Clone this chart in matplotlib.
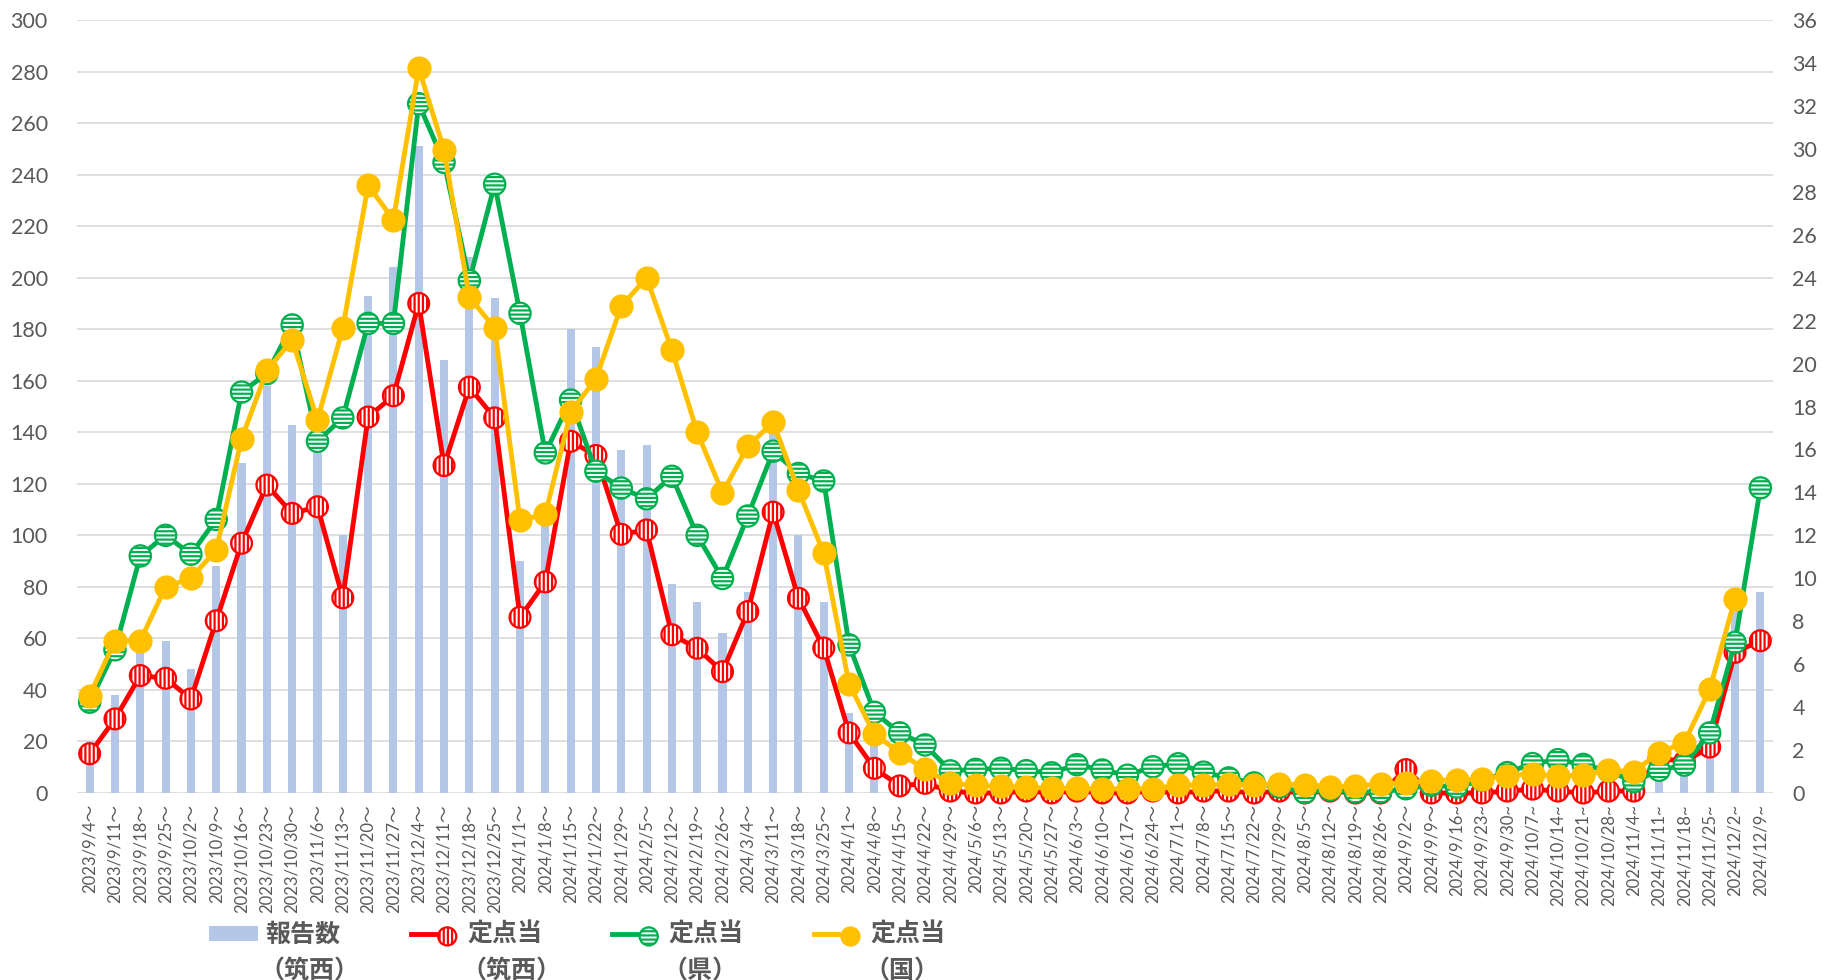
import numpy as np
import matplotlib
matplotlib.use("Agg")
import matplotlib as mpl
import matplotlib.pyplot as plt
from matplotlib.patches import Patch
from matplotlib.collections import PathCollection
from matplotlib.legend_handler import HandlerPathCollection, HandlerTuple
from matplotlib.font_manager import FontProperties

plt.rcParams['font.family'] = ['Lato', 'Noto Sans CJK JP', 'DejaVu Sans']
mpl.rcParams['hatch.linewidth'] = 1.6

categories = [
    "2023/9/4～", "2023/9/11～", "2023/9/18～", "2023/9/25～", "2023/10/2～", "2023/10/9～",
    "2023/10/16～", "2023/10/23～", "2023/10/30～", "2023/11/6～", "2023/11/13～", "2023/11/20～",
    "2023/11/27～", "2023/12/4～", "2023/12/11～", "2023/12/18～", "2023/12/25～",
    "2024/1/1～", "2024/1/8～", "2024/1/15～", "2024/1/22～", "2024/1/29～",
    "2024/2/5～", "2024/2/12～", "2024/2/19～", "2024/2/26～",
    "2024/3/4～", "2024/3/11～", "2024/3/18～", "2024/3/25～",
    "2024/4/1～", "2024/4/8～", "2024/4/15～", "2024/4/22～", "2024/4/29～",
    "2024/5/6～", "2024/5/13～", "2024/5/20～", "2024/5/27～",
    "2024/6/3～", "2024/6/10～", "2024/6/17～", "2024/6/24～",
    "2024/7/1～", "2024/7/8～", "2024/7/15～", "2024/7/22～", "2024/7/29～",
    "2024/8/5～", "2024/8/12～", "2024/8/19～", "2024/8/26～",
    "2024/9/2～", "2024/9/9～", "2024/9/16~", "2024/9/23~", "2024/9/30~",
    "2024/10/7~", "2024/10/14~", "2024/10/21~", "2024/10/28~",
    "2024/11/4~", "2024/11/11~", "2024/11/18~", "2024/11/25~",
    "2024/12/2~", "2024/12/9~",
]

reports_chikusei = [
    20, 38, 60, 59, 48, 88, 128, 158, 143, 147,
    100, 193, 204, 251, 168, 208, 192, 90, 106, 180,
    173, 133, 135, 81, 74, 62, 78, 140, 100, 74,
    31, 19, 4, 5, 1, 0, 0, 1, 0, 1,
    0, 0, 1, 0, 1, 1, 0, 1, 0, 1,
    0, 0, 12, 0, 0, 0, 1, 2, 1, 0,
    1, 1, 19, 16, 23, 72, 78,
]

per_site_chikusei = [
    1.83, 3.45, 5.47, 5.34, 4.38, 8.02, 11.63, 14.34, 13.02, 13.33,
    9.09, 17.51, 18.5, 22.8, 15.25, 18.9, 17.47, 8.18, 9.83, 16.38,
    15.72, 12.05, 12.25, 7.37, 6.74, 5.65, 8.45, 13.08, 9.07, 6.75,
    2.8, 1.15, 0.33, 0.45, 0.09, 0.0, 0.0, 0.09, 0.0, 0.09,
    0.0, 0.0, 0.09, 0.0, 0.09, 0.09, 0.0, 0.09, 0.0, 0.09,
    0.0, 0.0, 1.09, 0.0, 0.0, 0.0, 0.09, 0.18, 0.09, 0.0,
    0.09, 0.09, 1.64, 1.45, 2.14, 6.55, 7.09,
]

per_site_pref = [
    4.23, 6.67, 11.04, 12.0, 11.12, 12.74, 18.67, 19.53, 21.8, 16.38,
    17.47, 21.87, 21.87, 32.1, 29.37, 23.86, 28.35, 22.34, 15.84, 18.3,
    14.99, 14.2, 13.7, 14.75, 12.0, 9.99, 12.9, 15.92, 14.88, 14.53,
    6.9, 3.76, 2.8, 2.24, 1.03, 1.1, 1.15, 1.04, 0.94, 1.32,
    1.07, 0.83, 1.22, 1.36, 0.97, 0.7, 0.47, 0.28, 0.02, 0.15,
    0.05, 0.05, 0.2, 0.36, 0.28, 0.6, 0.95, 1.37, 1.55, 1.33,
    1.03, 0.53, 1.06, 1.3, 2.8, 7.01, 14.21,
]

per_site_nation = [
    4.54, 7.09, 7.09, 9.6, 10.0, 11.32, 16.49, 19.68, 21.1, 17.36,
    21.65, 28.3, 26.7, 33.75, 29.95, 23.1, 21.65, 12.71, 12.98, 17.73,
    19.3, 22.67, 24.0, 20.64, 16.8, 13.98, 16.15, 17.27, 14.1, 11.16,
    5.08, 2.74, 1.88, 1.1, 0.45, 0.36, 0.31, 0.27, 0.22, 0.22,
    0.18, 0.2, 0.2, 0.36, 0.38, 0.4, 0.38, 0.43, 0.38, 0.3,
    0.32, 0.42, 0.48, 0.58, 0.62, 0.66, 0.8, 0.9, 0.78, 0.84,
    1.05, 1.0, 1.88, 2.35, 4.83, 9.05, np.nan,
]

series_names = ["報告数（筑西）", "定点当（筑西）", "定点当（県）", "定点当（国）"]
left_ticks = list(range(0, 301, 20))
right_ticks = list(range(0, 37, 2))

BAR_C = '#B4C7E7'
RED = '#FF0000'
GREEN = '#00B050'
YELLOW = '#FFC000'
TXT = '#595959'
GRID = '#D9D9D9'

W, H = 1825, 980
fig = plt.figure(figsize=(W / 100, H / 100), dpi=100)
ax = fig.add_axes([77 / W, 1 - 793 / H, (1773 - 77) / W, (793 - 20) / H])

x = np.arange(len(categories))
ax.bar(x, reports_chikusei, width=0.32, color=BAR_C, zorder=2)
ax.set_xlim(-0.5, len(categories) - 0.5)
ax.set_ylim(left_ticks[0], left_ticks[-1])
ax.set_yticks(left_ticks)
ax.grid(axis='y', color=GRID, linewidth=1.2)
ax.set_axisbelow(True)
for s in ax.spines.values():
    s.set_visible(False)
ax.tick_params(axis='y', length=0, pad=21, labelsize=15.5, labelcolor=TXT)
ax.tick_params(axis='x', length=0, pad=8)
ax.set_xticks(x)
ax.set_xticklabels(categories, rotation=90, fontsize=12, color=TXT,
                   family=['Lato', 'Noto Sans CJK JP'])

ax2 = ax.twinx()
ax2.set_ylim(right_ticks[0], right_ticks[-1])
ax2.set_yticks(right_ticks)
for s in ax2.spines.values():
    s.set_visible(False)
ax2.tick_params(axis='y', length=0, pad=14, labelsize=15.5, labelcolor=TXT)


def draw_series(vals, color, hatch, size, z):
    line, = ax2.plot(x, vals, color=color, lw=3.5, zorder=z, solid_joinstyle='round',
                     clip_on=False)
    with mpl.rc_context({'hatch.color': color}):
        sc = ax2.scatter(x, vals, s=size, facecolor='white' if hatch else color,
                         edgecolor=color, linewidths=1.6, hatch=hatch, zorder=z + 0.1,
                         clip_on=False)
    return line, sc


lr, sr = draw_series(per_site_chikusei, RED, '||||', 225, 3)
lg, sg = draw_series(per_site_pref, GREEN, '----', 235, 4)
ly, sy = draw_series(per_site_nation, YELLOW, None, 250, 5)


class HatchHandler(HandlerPathCollection):
    def update_prop(self, legend_handle, orig_handle, legend):
        super().update_prop(legend_handle, orig_handle, legend)
        legend_handle._hatch_color = orig_handle._hatch_color


first_lines = [n.split('（')[0] for n in series_names]
second_lines = ['（' + n.split('（')[1] for n in series_names]
handles = [Patch(facecolor=BAR_C, edgecolor='none'), (lr, sr), (lg, sg), (ly, sy)]
legfont = FontProperties(family=['Noto Sans CJK JP'], weight='bold', size=18)
leg = fig.legend(handles, first_lines, loc='center left',
                 bbox_to_anchor=(209 / W, 1 - 935 / H), ncol=4, frameon=False,
                 borderpad=0, borderaxespad=0, handlelength=1.96, handletextpad=0.3,
                 columnspacing=2.8, handleheight=0.55, scatterpoints=1, prop=legfont,
                 handler_map={tuple: HandlerTuple(ndivide=None, pad=0),
                              PathCollection: HatchHandler(sizes=[170])})
for t in leg.get_texts():
    t.set_color(TXT)

fig.canvas.draw()
renderer = fig.canvas.get_renderer()
inv = fig.transFigure.inverted()
for t, sub in zip(leg.get_texts(), second_lines):
    bb = t.get_window_extent(renderer)
    fx, fy = inv.transform((bb.x0 - 6, (bb.y0 + bb.y1) / 2 - 36))
    fig.text(fx, fy, sub, ha='left', va='center', fontproperties=legfont, color=TXT)

fig.savefig('out.png', dpi=100)
